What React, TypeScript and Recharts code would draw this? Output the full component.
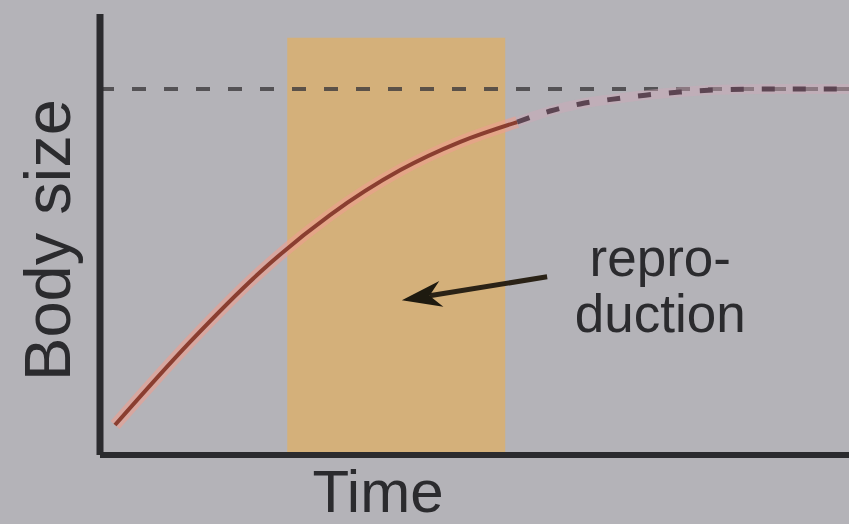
import React from 'react';
import {
    ComposedChart,
    Line,
    XAxis,
    YAxis,
    ReferenceArea,
    ReferenceLine,
    ReferenceDot,
} from 'recharts';

// growth curve, solid part (before/through reproduction)
const growthTime = [2, 12, 21.4, 30.7, 40.1, 48.1, 55.7];
const growthSize = [6.8, 25.6, 41.5, 54.4, 64.6, 71, 75.5];

// dashed continuation towards the asymptote
const laterTime = [55.7, 60.1, 64.1, 68.5, 72.8, 77.4, 82.8, 90.8, 100];
const laterSize = [75.5, 78, 79.6, 80.7, 81.6, 82.3, 82.8, 83, 83];

const maxSize = 83;
const reproStart = 25;
const reproEnd = 54.1;
const reproTop = 94.6;

const arrowTail = { x: 59.7, y: 40.4 };
const arrowTip = { x: 40.3, y: 35.1 };
const noteAt = { x: 74.8, y: 37.4 };
const noteLines = ['repro-', 'duction'];

const FONT = '"Liberation Sans", Arial, sans-serif';
const INK = '#2b2b2e';

const solidData = growthTime.map((t, i) => ({ t, size: growthSize[i] }));
const dashedData = laterTime.map((t, i) => ({ t, size: laterSize[i] }));

const Arrow = (props: any) => {
    const { x1, y1, x2, y2 } = props;
    const ang = Math.atan2(y2 - y1, x2 - x1);
    const len = 40;
    const half = 13;
    const bx = x2 - len * Math.cos(ang);
    const by = y2 - len * Math.sin(ang);
    const px = -Math.sin(ang) * half;
    const py = Math.cos(ang) * half;
    const nx = bx + 0.3 * (x2 - bx);
    const ny = by + 0.3 * (y2 - by);
    return (
        <g>
            <line x1={x1} y1={y1} x2={nx} y2={ny} stroke="#2a2216" strokeWidth={5} />
            <polygon
                points={`${x2},${y2} ${bx + px},${by + py} ${nx},${ny} ${bx - px},${by - py}`}
                fill="#1e1a10"
            />
        </g>
    );
};

const NoteLabel = (props: any) => {
    const vb = props.viewBox || {};
    const cx = vb.x + (vb.width || 0) / 2;
    const cy = vb.y + (vb.height || 0) / 2;
    return (
        <g>
            <text x={cx} y={cy - 14} textAnchor="middle" fontFamily={FONT} fontSize={53} fill={INK}>
                {noteLines[0]}
            </text>
            <text x={cx} y={cy + 42} textAnchor="middle" fontFamily={FONT} fontSize={53} fill={INK}>
                {noteLines[1]}
            </text>
        </g>
    );
};

const YLabel = (props: any) => {
    const vb = props.viewBox || {};
    const x = vb.x + 47;
    const y = 240;
    return (
        <text
            x={x}
            y={y}
            transform={`rotate(-90, ${x}, ${y})`}
            textAnchor="middle"
            dominantBaseline="central"
            fontFamily={FONT}
            fontSize={65}
            fill={INK}
        >
            Body size
        </text>
    );
};

const XLabel = (props: any) => {
    const vb = props.viewBox || {};
    return (
        <text x={378} y={vb.y + 57} textAnchor="middle" fontFamily={FONT} fontSize={60} fill={INK}>
            Time
        </text>
    );
};

export default function App() {
    return (
        <div
            style={{
                position: 'absolute',
                left: 0,
                top: 0,
                width: 849,
                height: 524,
                background: '#b4b3b8',
            }}
        >
            <ComposedChart width={849} height={524} margin={{ top: 14, right: 0, left: 0, bottom: 0 }}>
                <ReferenceArea
                    x1={reproStart}
                    x2={reproEnd}
                    y1={0}
                    y2={reproTop}
                    fill="#d4b07a"
                    fillOpacity={1}
                    stroke="none"
                />
                <ReferenceLine
                    y={maxSize}
                    stroke="#3c3a3c"
                    strokeOpacity={0.8}
                    strokeWidth={4}
                    strokeDasharray="14 18"
                />
                <XAxis
                    dataKey="t"
                    type="number"
                    domain={[0, 100]}
                    allowDataOverflow
                    height={69}
                    tick={false}
                    tickLine={false}
                    axisLine={{ stroke: INK, strokeWidth: 6 }}
                    label={<XLabel />}
                />
                <YAxis
                    dataKey="size"
                    type="number"
                    domain={[0, 100]}
                    allowDataOverflow
                    width={100}
                    tick={false}
                    tickLine={false}
                    axisLine={{ stroke: INK, strokeWidth: 7 }}
                    label={<YLabel />}
                />
                {/* soft halo under the curve */}
                <Line
                    data={solidData}
                    dataKey="size"
                    type="monotone"
                    stroke="#ee9f90"
                    strokeOpacity={0.6}
                    strokeWidth={12}
                    dot={false}
                    activeDot={false}
                    isAnimationActive={false}
                />
                <Line
                    data={dashedData}
                    dataKey="size"
                    type="monotone"
                    stroke="#cfa9b8"
                    strokeOpacity={0.45}
                    strokeWidth={10}
                    dot={false}
                    activeDot={false}
                    isAnimationActive={false}
                />
                <Line
                    data={solidData}
                    dataKey="size"
                    type="monotone"
                    stroke="#8a3e30"
                    strokeWidth={4}
                    dot={false}
                    activeDot={false}
                    isAnimationActive={false}
                />
                <Line
                    data={dashedData}
                    dataKey="size"
                    type="monotone"
                    stroke="#5c4552"
                    strokeWidth={5}
                    strokeDasharray="13 18"
                    dot={false}
                    activeDot={false}
                    isAnimationActive={false}
                />
                <ReferenceLine segment={[arrowTail, arrowTip]} shape={Arrow} />
                <ReferenceDot x={noteAt.x} y={noteAt.y} r={0} stroke="none" fill="none" label={<NoteLabel />} />
            </ComposedChart>
        </div>
    );
}
